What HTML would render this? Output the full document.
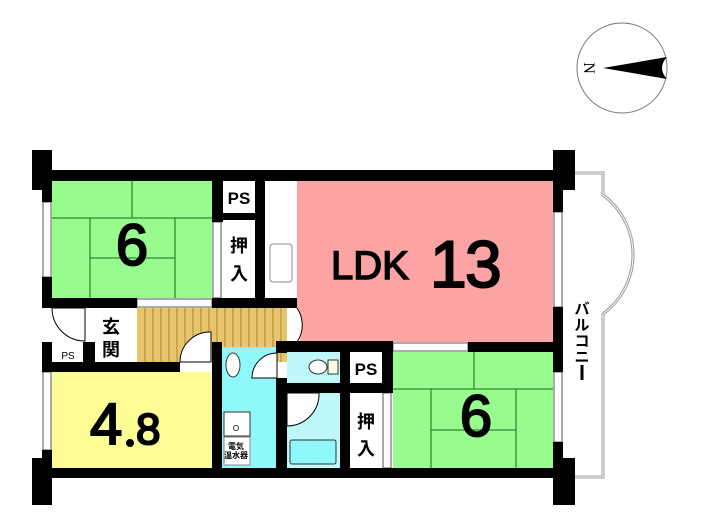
<!DOCTYPE html>
<html><head><meta charset="utf-8"><style>
html,body{margin:0;padding:0;background:#fff;}
svg{display:block;}
text{font-family:"Liberation Sans","Noto Sans CJK JP",sans-serif;font-weight:bold;fill:#000;}
</style></head><body>
<svg width="705" height="525" viewBox="0 0 705 525" xmlns="http://www.w3.org/2000/svg">
<!-- compass -->
<circle cx="622" cy="68" r="45" fill="none" stroke="#777" stroke-width="1"/>
<path d="M603 68 L667 57 Q657 68 667 79 Z" fill="#000"/>
<text x="0" y="0" font-size="16" transform="translate(584,68) rotate(90)" text-anchor="middle" style="font-family:'Liberation Serif',serif;font-weight:normal">N</text>

<!-- balcony -->
<path d="M575 173 L603 173 L603 195 A74 74 0 0 1 603 314 L603 477 L575 477" fill="none" stroke="#999" stroke-width="3"/>
<path d="M575 173 L603 173 L603 195 A74 74 0 0 1 603 314 L603 477 L575 477" fill="none" stroke="#fff" stroke-width="1"/>

<!-- rooms -->
<rect x="52" y="181" width="160" height="117" fill="#98fb8e"/>
<rect x="297" y="181" width="256" height="161" fill="#fca4a4"/>
<rect x="393" y="352" width="160" height="116" fill="#98fb8e"/>
<rect x="52" y="372" width="160" height="96" fill="#fdfd96"/>
<rect x="137" y="308" width="150" height="54" fill="#e8c46a"/>
<g stroke="#a88a3c" stroke-width="1">
<line x1="145" y1="308" x2="145" y2="362"/><line x1="153" y1="308" x2="153" y2="362"/><line x1="161" y1="308" x2="161" y2="362"/><line x1="169" y1="308" x2="169" y2="362"/><line x1="177" y1="308" x2="177" y2="362"/><line x1="185" y1="308" x2="185" y2="362"/><line x1="193" y1="308" x2="193" y2="362"/><line x1="201" y1="308" x2="201" y2="362"/><line x1="209" y1="308" x2="209" y2="362"/><line x1="217" y1="308" x2="217" y2="362"/><line x1="225" y1="308" x2="225" y2="362"/><line x1="233" y1="308" x2="233" y2="362"/><line x1="241" y1="308" x2="241" y2="362"/><line x1="249" y1="308" x2="249" y2="362"/><line x1="257" y1="308" x2="257" y2="362"/><line x1="265" y1="308" x2="265" y2="362"/><line x1="273" y1="308" x2="273" y2="362"/><line x1="281" y1="308" x2="281" y2="362"/>
</g>
<rect x="222" y="347" width="54" height="121" fill="#8ff8fb"/>
<rect x="287" y="352" width="53" height="31" fill="#bff8fb"/>
<rect x="287" y="393" width="53" height="75" fill="#bff8fb"/>

<!-- tatami lines -->
<g stroke="#1a6a1a" stroke-width="1" fill="none">
<line x1="52" y1="218" x2="212" y2="218"/><line x1="90" y1="218" x2="90" y2="298"/><line x1="175" y1="218" x2="175" y2="298"/><line x1="90" y1="258" x2="175" y2="258"/><line x1="132" y1="181" x2="132" y2="218"/>
<line x1="393" y1="389" x2="553" y2="389"/><line x1="431" y1="389" x2="431" y2="468"/><line x1="516" y1="389" x2="516" y2="468"/><line x1="431" y1="430" x2="516" y2="430"/><line x1="474" y1="352" x2="474" y2="389"/>
</g>

<!-- white fixtures -->
<rect x="223" y="181" width="32" height="32" fill="#fff"/>
<rect x="223" y="220" width="32" height="78" fill="#fff"/>
<rect x="265" y="181" width="32" height="117" fill="#fff"/>
<rect x="270" y="244" width="22" height="38" rx="3" fill="#fff" stroke="#888"/>
<rect x="95" y="308" width="32" height="54" fill="#fff"/>
<rect x="52" y="346" width="31" height="16" fill="#fff"/>
<rect x="350" y="352" width="32" height="31" fill="#fff"/>
<rect x="350" y="393" width="32" height="75" fill="#fff"/>
<rect x="224" y="412" width="26" height="24" fill="#fff" stroke="#333"/>
<circle cx="236" cy="428" r="2.5" fill="none" stroke="#333"/>
<rect x="224" y="437" width="26" height="28" fill="#fff" stroke="#888"/>
<ellipse cx="233" cy="365" rx="7" ry="12" fill="#fff" stroke="#333"/>
<rect x="290" y="440" width="46" height="24" rx="2" fill="#8ff8fb" stroke="#333"/>
<ellipse cx="318" cy="367" rx="9" ry="7" fill="#fff" stroke="#333"/>
<rect x="328" y="360" width="10" height="14" fill="#fffde0" stroke="#333"/>

<!-- door arcs -->
<g fill="#fff" stroke="#000" stroke-width="1">
<path d="M52 308 A33 33 0 0 0 85 341 L85 308 Z"/>
<path d="M287 308 A33 33 0 0 1 300 341 L287 341 Z" stroke="none"/>
<path d="M297 308 A30 30 0 0 1 297 342"/>
<path d="M180 362 A30 30 0 0 1 211 332 L211 362 Z"/>
<path d="M252 378 A25 25 0 0 1 277 353 L277 378 Z"/>
<path d="M287 393 L287 426 A32 32 0 0 0 319 393 Z"/>
</g>

<!-- windows -->
<g fill="#fff" stroke="#555" stroke-width="1">
<rect x="43" y="202" width="8" height="75"/>
<rect x="43" y="372" width="8" height="78"/>
<rect x="554" y="212" width="8" height="95"/>
<rect x="554" y="372" width="8" height="70"/>
<rect x="137" y="299" width="75" height="8"/>
<rect x="393" y="343" width="75" height="8"/>
<rect x="213" y="222" width="8" height="76"/>
<rect x="383" y="393" width="8" height="75"/>
</g>

<!-- walls -->
<g fill="#000">
<rect x="42" y="170" width="521" height="11"/>
<rect x="32" y="150" width="20" height="40"/>
<rect x="553" y="150" width="22" height="40"/>
<rect x="42" y="170" width="10" height="32"/>
<rect x="42" y="277" width="10" height="31"/>
<rect x="42" y="298" width="95" height="10"/>
<rect x="212" y="181" width="11" height="41"/>
<rect x="212" y="298" width="85" height="10"/>
<rect x="223" y="213" width="32" height="7"/>
<rect x="255" y="181" width="10" height="117"/>
<rect x="553" y="181" width="10" height="31"/>
<rect x="553" y="307" width="10" height="65"/>
<rect x="553" y="442" width="10" height="36"/>
<rect x="553" y="458" width="22" height="47"/>
<rect x="42" y="342" width="10" height="30"/>
<rect x="83" y="342" width="12" height="30"/>
<rect x="42" y="362" width="138" height="10"/>
<rect x="42" y="450" width="10" height="28"/>
<rect x="32" y="458" width="20" height="47"/>
<rect x="42" y="468" width="521" height="10"/>
<rect x="212" y="342" width="10" height="136"/>
<rect x="276" y="341" width="117" height="11"/>
<rect x="468" y="342" width="95" height="10"/>
<rect x="276" y="341" width="11" height="12"/>
<rect x="276" y="378" width="11" height="100"/>
<rect x="276" y="383" width="117" height="10"/>
<rect x="340" y="341" width="10" height="137"/>
<rect x="382" y="352" width="11" height="41"/>
</g>

<!-- labels -->
<text x="132" y="265" font-size="58" text-anchor="middle" style="font-weight:normal" stroke="#000" stroke-width="2">6</text>
<text x="476" y="436" font-size="58" text-anchor="middle" style="font-weight:normal" stroke="#000" stroke-width="2">6</text>
<text x="239" y="204" font-size="17" text-anchor="middle">PS</text>
<text x="366" y="375" font-size="17" text-anchor="middle">PS</text>
<text x="68" y="359" font-size="10" text-anchor="middle" style="font-weight:normal">PS</text>
<text x="239" y="252" font-size="18" text-anchor="middle">押</text>
<text x="239" y="280" font-size="18" text-anchor="middle">入</text>
<text x="366" y="428" font-size="18" text-anchor="middle">押</text>
<text x="366" y="455" font-size="18" text-anchor="middle">入</text>
<text x="111" y="333" font-size="18" text-anchor="middle">玄</text>
<text x="111" y="356" font-size="18" text-anchor="middle">関</text>
<text x="236" y="449" font-size="8" text-anchor="middle">電気</text>
<text x="236" y="458" font-size="8" text-anchor="middle">温水器</text>
<text x="331" y="279" font-size="40" style="font-weight:normal" stroke="#000" stroke-width="1.5">LDK</text>
<text x="430" y="287" font-size="66" style="font-weight:normal" stroke="#000" stroke-width="2">1</text>
<text x="465" y="287" font-size="66" style="font-weight:normal" stroke="#000" stroke-width="2">3</text>
<text x="90" y="444" font-size="58" style="font-weight:normal" stroke="#000" stroke-width="2">4</text>
<circle cx="130" cy="443" r="4" fill="#000"/>
<text x="136" y="444" font-size="44" style="font-weight:normal" stroke="#000" stroke-width="2">8</text>
<text x="582" y="314" font-size="15" text-anchor="middle">バ</text>
<text x="582" y="330" font-size="15" text-anchor="middle">ル</text>
<text x="582" y="346" font-size="15" text-anchor="middle">コ</text>
<text x="582" y="362" font-size="15" text-anchor="middle">ニ</text>
<rect x="580.5" y="365" width="3" height="15" fill="#000"/>
</svg>
</body></html>
